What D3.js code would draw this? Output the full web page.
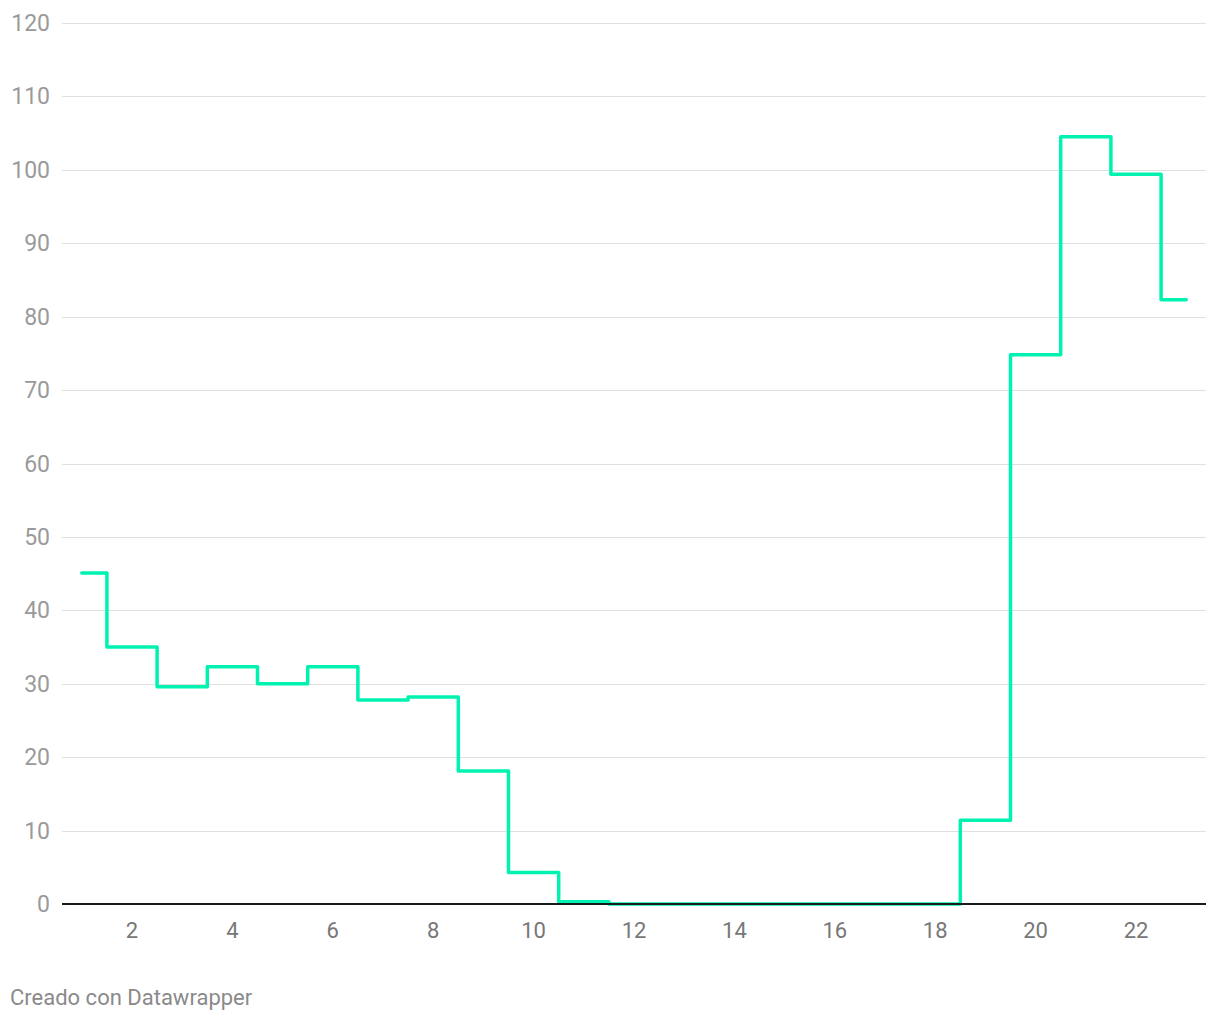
<!DOCTYPE html>
<html>
<head>
<meta charset="utf-8">
<script src="https://cdn.jsdelivr.net/npm/d3@7"></script>
<style>
  body { margin: 0; background: #fff; font-family: Roboto, "Noto Sans", sans-serif; }
  .grid line { stroke: #e0e0e0; stroke-width: 1; }
  .ylab { fill: #9a9a9a; font-size: 23px; }
  .xlab { fill: #777; font-size: 22px; }
  .footer { fill: #8a8a8a; font-size: 22px; }
</style>
</head>
<body>
<svg id="chart" width="1220" height="1020"></svg>
<script>
// DATA
const hours = [1, 2, 3, 4, 5, 6, 7, 8, 9, 10, 11, 12, 13, 14, 15, 16, 17, 18, 19, 20, 21, 22, 23];
const values = [45.1, 35.0, 29.6, 32.3, 30.0, 32.3, 27.8, 28.2, 18.1, 4.3, 0.3, 0, 0, 0, 0, 0, 0, 0, 11.4, 74.8, 104.5, 99.4, 82.3];
const yTicks = [0, 10, 20, 30, 40, 50, 60, 70, 80, 90, 100, 110, 120];
const xTicks = [2, 4, 6, 8, 10, 12, 14, 16, 18, 20, 22];

// LAYOUT
const plotLeft = 62, plotRight = 1206;
const svg = d3.select("#chart");

const x = d3.scaleLinear().domain([1, 23]).range([81.8, 1186.2]);
const y = d3.scaleLinear().domain([0, 120]).range([904, 23]);

// grid lines
svg.append("g").attr("class", "grid")
  .selectAll("line")
  .data(yTicks.filter(d => d !== 0))
  .enter().append("line")
  .attr("x1", plotLeft).attr("x2", plotRight)
  .attr("y1", d => Math.round(y(d)) + 0.5).attr("y2", d => Math.round(y(d)) + 0.5);

// y labels
svg.append("g").selectAll("text")
  .data(yTicks)
  .enter().append("text")
  .attr("class", "ylab")
  .attr("text-anchor", "end")
  .attr("x", 50)
  .attr("y", d => y(d) + 8)
  .text(d => d);

// step line
const line = d3.line()
  .x((d, i) => x(hours[i]))
  .y(d => y(d))
  .curve(d3.curveStep);

svg.append("path")
  .datum(values)
  .attr("fill", "none")
  .attr("stroke", "#00f2b0")
  .attr("stroke-width", 3.5)
  .attr("stroke-linejoin", "round")
  .attr("stroke-linecap", "round")
  .attr("d", line);

// baseline
svg.append("line")
  .attr("x1", plotLeft).attr("x2", plotRight)
  .attr("y1", y(0)).attr("y2", y(0))
  .attr("stroke", "#1a1a1a").attr("stroke-width", 2);

// x labels
svg.append("g").selectAll("text")
  .data(xTicks)
  .enter().append("text")
  .attr("class", "xlab")
  .attr("text-anchor", "middle")
  .attr("x", d => x(d))
  .attr("y", 938)
  .text(d => d);

// footer
svg.append("text")
  .attr("class", "footer")
  .attr("x", 10)
  .attr("y", 1005)
  .text("Creado con Datawrapper");
</script>
</body>
</html>
